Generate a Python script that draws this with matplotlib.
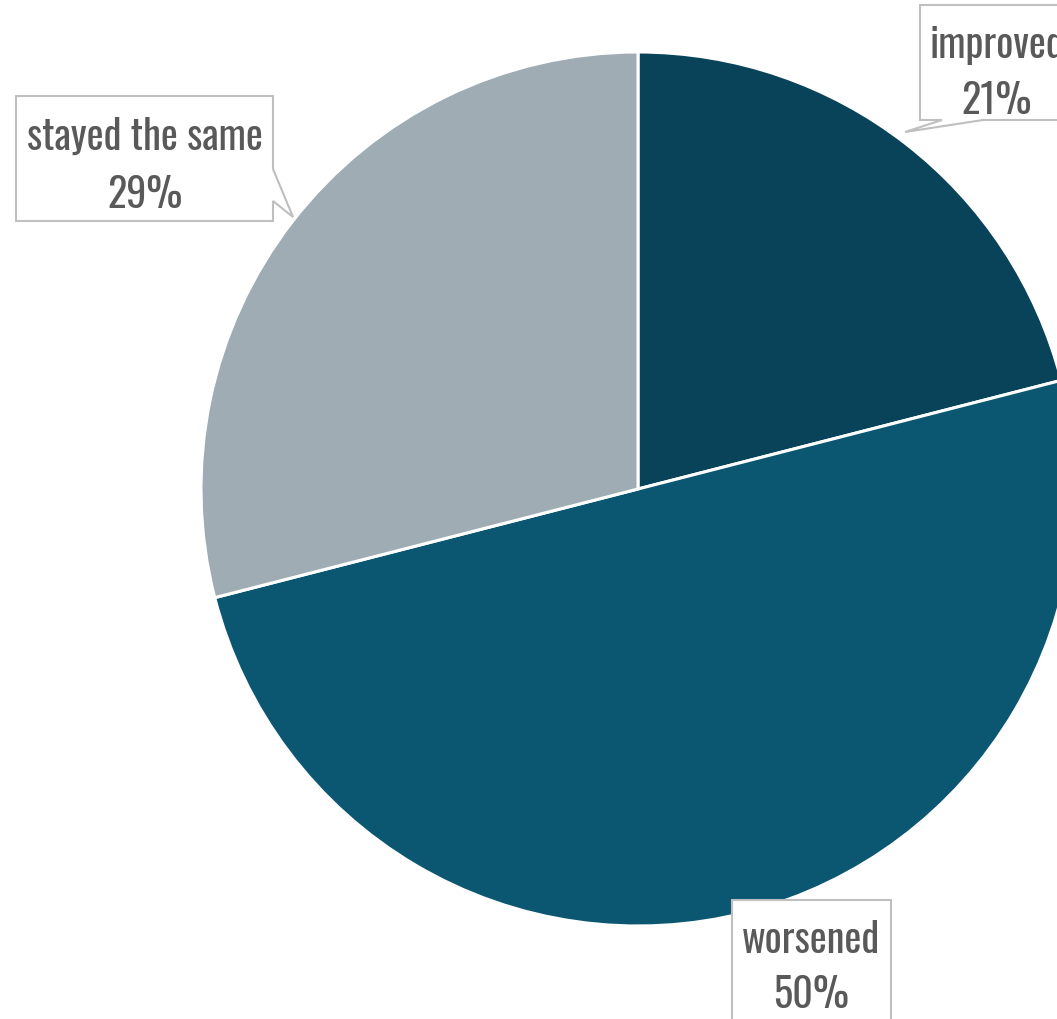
import matplotlib
matplotlib.use("Agg")
import matplotlib.pyplot as plt
from matplotlib.patches import Polygon

categories = ["improved", "worsened", "stayed the same"]
values = [21, 50, 29]
colors = ["#08435A", "#0B5670", "#A0ACB4"]

W, H = 1057, 1020
fig = plt.figure(figsize=(W / 100, H / 100), dpi=100)
ax = fig.add_axes([0, 0, 1, 1])

def Y(y):
    return H - y

ax.pie(values, colors=colors, startangle=90, counterclock=False,
       center=(638, Y(490)), radius=437,
       wedgeprops=dict(edgecolor="white", linewidth=2.2), frame=True)
ax.set_xlim(0, W)
ax.set_ylim(0, H)
ax.set_aspect("equal")
ax.axis("off")

fam = ["Oswald", "Barlow Condensed", "DejaVu Sans"]

def callout(pts, cx, cy1, cy2, name, val):
    poly = Polygon([(x, Y(y)) for x, y in pts], closed=True, facecolor="white",
                   edgecolor="#BFBFBF", linewidth=1.5, zorder=5, clip_on=False)
    ax.add_patch(poly)
    ax.text(cx, Y(cy1), name, ha="center", va="center", fontsize=29,
            color="#595959", family=fam, zorder=6)
    ax.text(cx, Y(cy2), f"{val}%", ha="center", va="center", fontsize=29,
            color="#595959", family=fam, zorder=6)

# stayed the same (left), pointer on right edge
callout([(16, 97), (273, 97), (273, 170), (293, 218), (273, 202), (273, 222), (16, 222)],
        145, 137, 195, categories[2], values[2])
# improved (top right), pointer on bottom edge
callout([(920, 6), (1074, 6), (1074, 121), (983, 121), (905, 133), (942, 121), (920, 121)],
        997, 45, 101, categories[0], values[0])
# worsened (bottom)
callout([(732, 901), (891, 901), (891, 1080), (732, 1080)],
        811, 940, 995, categories[1], values[1])

fig.savefig("out.png", dpi=100)
